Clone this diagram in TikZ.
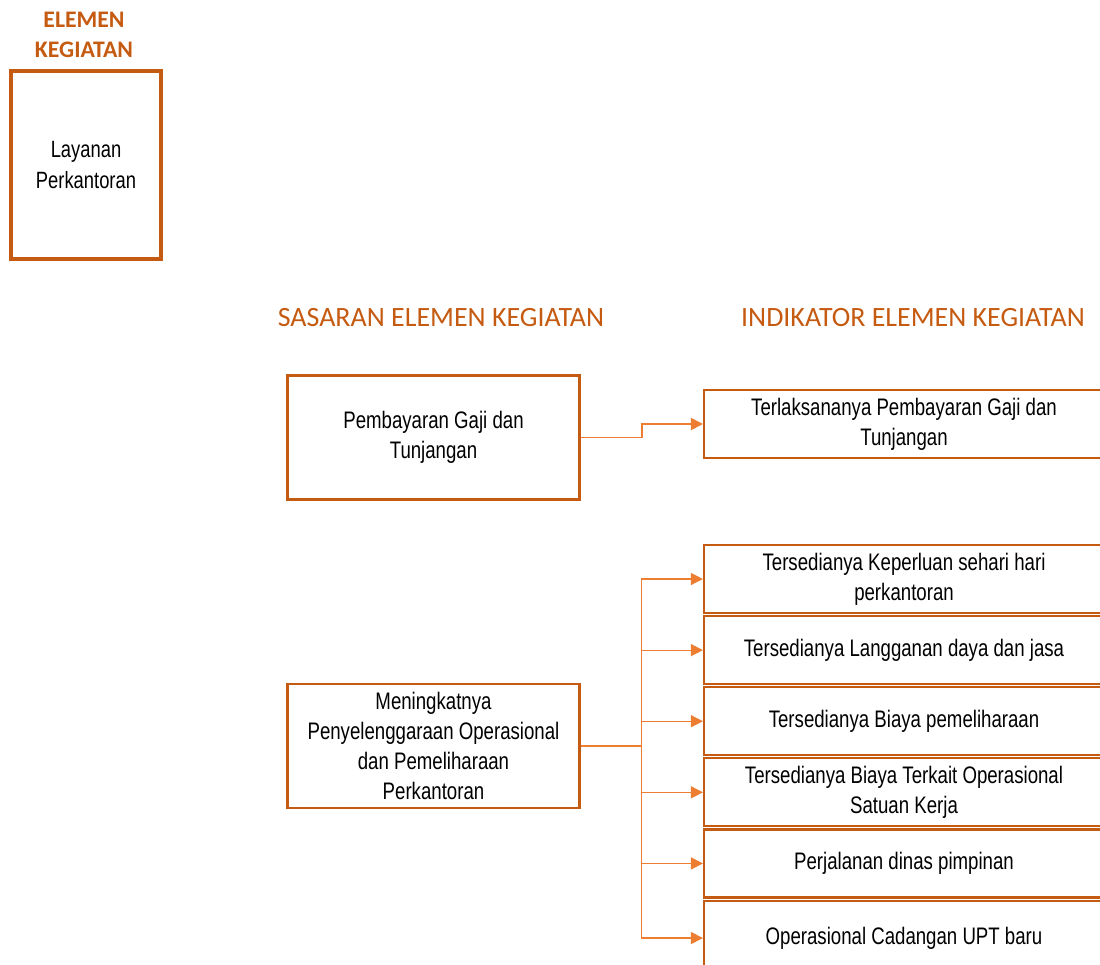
\documentclass[tikz,border=0pt]{standalone}
\usepackage{fontspec}
\setmainfont{Liberation Sans}[FakeStretch=0.78]
\newfontfamily\headfont{Carlito}
\definecolor{kegorange}{RGB}{197, 90, 17}
\definecolor{arrorange}{RGB}{237, 125, 49}
\usetikzlibrary{arrows.meta, positioning}

\begin{document}
\begin{tikzpicture}[
  node distance=0.02cm,
  elemen/.style={rectangle, draw=kegorange, line width=2.2pt, minimum width=3.0cm,
                 minimum height=3.76cm, align=center, font=\fontsize{13.4}{18}\selectfont},
  sasaran/.style={rectangle, draw=kegorange, line width=1.2pt, minimum width=5.84cm,
                  minimum height=2.48cm, align=center, font=\fontsize{13.6}{17}\selectfont},
  indikator/.style={rectangle, draw=kegorange, line width=1.2pt, minimum width=8.0cm,
                    minimum height=1.36cm, inner sep=2pt, align=center, font=\fontsize{13.6}{17}\selectfont},
  judul/.style={text=kegorange, align=center, font=\headfont\fontsize{15.9}{19}\selectfont},
  arr/.style={-{Triangle[length=0.24cm, width=0.24cm]}, line width=0.9pt, arrorange}
]
  \useasboundingbox (0,0) rectangle (22,-19.28);
  \clip (0,0) rectangle (22,-19.28);

  % elemen kegiatan
  \node[judul, font=\headfont\bfseries\fontsize{13.5}{17}\selectfont] (elemenjudul) at (1.68,-0.7) {ELEMEN\\KEGIATAN};
  \node[elemen] (layanan) at (1.72,-3.3) {Layanan\\Perkantoran};

  % headers
  \node[judul] (sasaranjudul) at (8.82,-6.36) {SASARAN ELEMEN KEGIATAN};
  \node[judul] (indikatorjudul) at (18.26,-6.36) {INDIKATOR ELEMEN KEGIATAN};

  % sasaran
  \node[sasaran] (gaji) at (8.67,-8.75) {Pembayaran Gaji dan\\Tunjangan};
  \node[sasaran] (operasional) at (8.67,-14.92) {Meningkatnya\\Penyelenggaraan Operasional\\dan Pemeliharaan\\Perkantoran};

  % indikator
  \node[indikator] (ind1) at (18.08,-8.48) {Terlaksananya Pembayaran Gaji dan\\Tunjangan};
  \node[indikator] (ind2) at (18.08,-11.58) {Tersedianya Keperluan sehari hari\\perkantoran};
  \node[indikator, below=of ind2] (ind3) {Tersedianya Langganan daya dan jasa};
  \node[indikator, below=of ind3] (ind4) {Tersedianya Biaya pemeliharaan};
  \node[indikator, below=of ind4] (ind5) {Tersedianya Biaya Terkait Operasional\\Satuan Kerja};
  \node[indikator, below=of ind5] (ind6) {Perjalanan dinas pimpinan};
  \node[indikator, below=of ind6, minimum height=1.5cm] (ind7) {Operasional Cadangan UPT baru};

  \draw[arr, line width=1.1pt] (gaji.east) -- ++(1.22,0) |- (ind1.west);
  \draw[arrorange, line width=1pt] (operasional.east) -- ++(1.22,0) coordinate (cabang);
  \draw[arr, line width=0.7pt] (cabang) |- (ind2.west);
  \draw[arr, line width=0.7pt] (cabang) |- (ind3.west);
  \draw[arr, line width=0.7pt] (cabang) |- (ind4.west);
  \draw[arr, line width=0.7pt] (cabang) |- (ind5.west);
  \draw[arr, line width=0.7pt] (cabang) |- (ind6.west);
  \draw[arr, line width=0.7pt] (cabang) |- (ind7.west);
\end{tikzpicture}
\end{document}
